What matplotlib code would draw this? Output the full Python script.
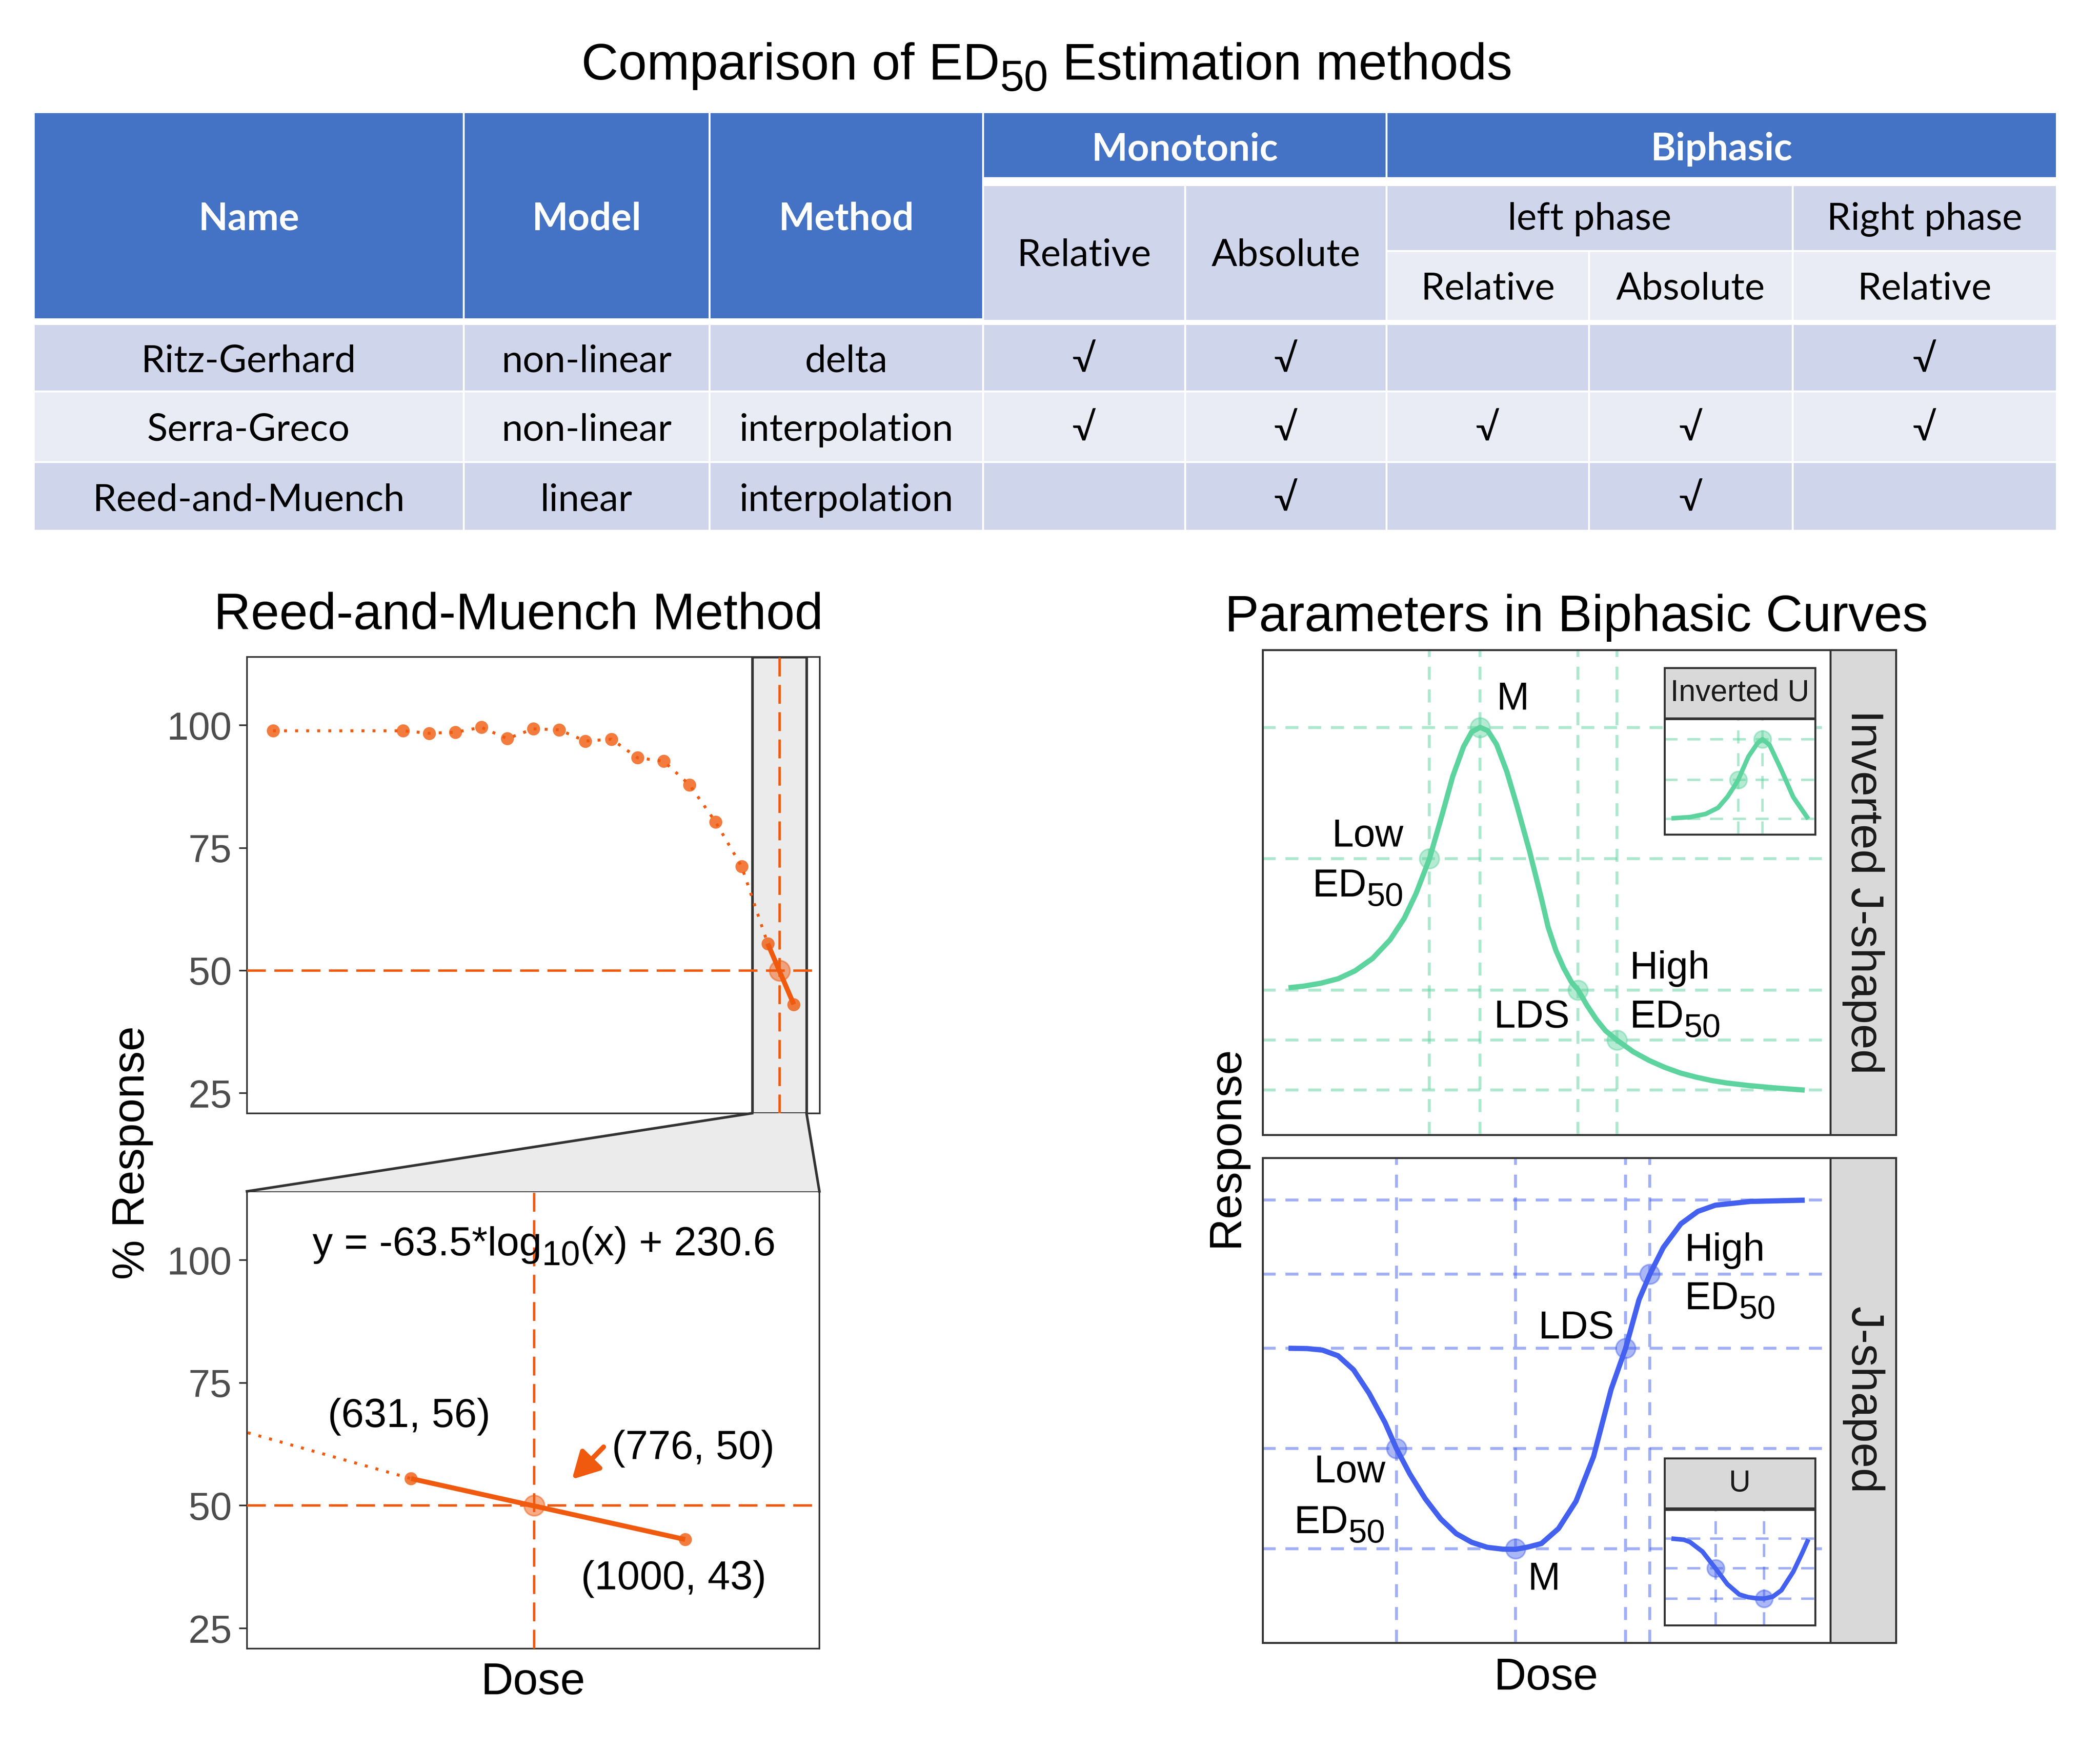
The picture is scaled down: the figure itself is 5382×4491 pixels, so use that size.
import numpy as np
import matplotlib
matplotlib.use('Agg')
import matplotlib.pyplot as plt
from matplotlib.patches import Rectangle, Polygon
from matplotlib.ticker import NullLocator, FixedLocator

W, H, DPI = 5383, 4491, 300
plt.rcParams['font.family'] = ['Liberation Sans', 'DejaVu Sans']
plt.rcParams['lines.scale_dashes'] = False

# ---------------- data ----------------
tbl_header = ['Name', 'Model', 'Method']
tbl_group = ['Monotonic', 'Biphasic']
tbl_phase = ['left phase', 'Right phase']
tbl_mono_sub = ['Relative', 'Absolute']
tbl_bi_sub = ['Relative', 'Absolute', 'Relative']
tbl_names = ['Ritz-Gerhard', 'Serra-Greco', 'Reed-and-Muench']
tbl_models = ['non-linear', 'non-linear', 'linear']
tbl_methods = ['delta', 'interpolation', 'interpolation']
tbl_checks = [[1, 1, 0, 0, 1],
              [1, 1, 1, 1, 1],
              [0, 1, 0, 1, 0]]

# Reed-and-Muench example
rm_dose = [0.1, 1, 1.58, 2.51, 3.98, 6.31, 10, 15.8, 25.1, 39.8, 63.1, 100,
           158, 251, 398, 631, 1000]
rm_resp = [98.9, 98.9, 98.4, 98.6, 99.6, 97.3, 99.3, 99.1, 96.8, 97.2, 93.4,
           92.7, 87.9, 80.3, 71.2, 55.5, 43.1]
fit_dose = [631, 1000]
fit_resp = [55.5, 43.1]
ed50_dose = 776
ed50_resp = 50
zoom_dose = [479, 1253]
rm_yticks = [25, 50, 75, 100]

# Biphasic curves
ij_x = [0.00, 0.28, 0.62, 0.96, 1.29, 1.63, 1.97, 2.24, 2.47, 2.73, 2.98, 3.18,
        3.39, 3.55, 3.71, 3.86, 4.03, 4.23, 4.43, 4.67, 4.90, 5.03, 5.18, 5.33,
        5.48, 5.61, 5.78, 5.96, 6.14, 6.36, 6.68, 6.99, 7.29, 7.59, 7.89, 8.19,
        8.49, 8.90, 9.45, 10.00]
ij_y = [30.32, 30.63, 31.24, 32.17, 33.81, 36.37, 40.22, 44.58, 49.71, 56.90,
        66.13, 73.83, 79.99, 83.06, 84.00, 83.32, 80.50, 74.86, 67.67, 58.44,
        48.69, 42.80, 38.00, 34.40, 31.50, 29.87, 26.73, 23.84, 21.47, 19.54,
        17.11, 15.31, 13.90, 12.75, 11.91, 11.21, 10.69, 10.18, 9.65, 9.22]
ij_key_x = [2.73, 3.71, 5.61, 6.36]
ij_key_y = [56.90, 83.93, 29.87, 19.54]
ij_hlines = [83.93, 56.90, 29.87, 19.54, 9.22]

j_x = [0.00, 0.36, 0.66, 0.96, 1.26, 1.56, 1.87, 2.09, 2.35, 2.65, 2.95, 3.25,
       3.55, 3.85, 4.15, 4.40, 4.64, 4.90, 5.23, 5.57, 5.91, 6.25, 6.53, 6.79,
       7.00, 7.26, 7.60, 7.93, 8.27, 8.95, 10.00]
j_y = [60.72, 60.66, 60.34, 59.18, 56.29, 51.48, 45.39, 40.06, 34.80, 29.67,
       25.50, 22.48, 20.69, 19.66, 19.28, 19.25, 19.72, 20.44, 23.52, 29.17,
       38.40, 52.26, 60.72, 70.74, 76.00, 81.51, 86.39, 88.96, 90.24, 91.01,
       91.27]
j_key_x = [2.09, 4.40, 6.53, 7.00]
j_key_y = [40.06, 19.40, 60.72, 76.00]
j_hlines = [91.27, 76.00, 60.72, 40.06, 19.40]

iu_x = [0.0, 1.36, 2.50, 3.41, 4.09, 4.54, 4.88, 5.33, 5.63, 6.30, 6.65, 7.17,
        8.03, 8.90, 10.0]
iu_y = [13.97, 15.05, 17.76, 23.14, 32.58, 40.70, 47.40, 59.60, 67.60, 79.30,
        82.60, 77.60, 55.90, 32.40, 13.40]
iu_key_x = [4.88, 6.65]
iu_key_y = [47.40, 82.60]
iu_hlines = [82.60, 47.40, 13.40]

u_x = [0.0, 0.92, 1.36, 2.27, 3.22, 4.09, 4.96, 5.60, 6.20, 6.78, 7.40, 8.03,
       8.90, 9.55, 10.0]
u_y = [75.0, 74.0, 72.0, 63.7, 49.2, 35.4, 26.5, 24.2, 23.2, 23.0, 24.6, 30.1,
       46.2, 62.4, 74.4]
u_key_x = [3.22, 6.78]
u_key_y = [49.2, 23.0]
u_hlines = [75.0, 49.2, 23.0]

# ---------------- style ----------------
orange = '#F05A0E'
green = '#5DD39E'
blue = '#4361EE'
dark = '#333333'
tblue = '#4472C4'
row_dark = '#CFD5EA'
row_light = '#E9EBF5'
TFONT = ['Lato', 'DejaVu Sans']

fig = plt.figure(figsize=(W / DPI, H / DPI), dpi=DPI)
fig.patch.set_facecolor('white')
ov = fig.add_axes([0, 0, 1, 1], zorder=10)
ov.set_xlim(0, W)
ov.set_ylim(H, 0)
ov.axis('off')
renderer = fig.canvas.get_renderer()


def _w(s, size, family=None):
    kw = {'family': family} if family else {}
    t = ov.text(0, 0, s, fontsize=size, **kw)
    w = t.get_window_extent(renderer).width
    t.remove()
    return w


def rich(x, y, pieces, size, ha='left', color='black', sub=0.85, drop=0.24):
    px = size * DPI / 72.0
    items = []
    for s, kind in pieces:
        if kind == 'gap':
            items.append((None, size, 0, _w('a a', size) - _w('aa', size)))
        elif kind == 'sub':
            fs = size * sub
            items.append((s, fs, drop * px, _w(s, fs)))
        else:
            items.append((s, size, 0, _w(s, size)))
    total = sum(i[3] for i in items)
    x0 = x - total if ha == 'right' else (x - total / 2 if ha == 'center' else x)
    for s, fs, dy, w in items:
        if s is not None:
            ov.text(x0, y + dy, s, fontsize=fs, ha='left', va='baseline', color=color)
        x0 += w


def fpos(x0, y0, x1, y1):
    return [x0 / W, 1 - y1 / H, (x1 - x0) / W, (y1 - y0) / H]


# ---------------- table ----------------
X = [86, 1188, 1818.5, 2519, 3037, 3553.5, 4072, 4594, 5271]


def cell(x0, x1, y0, y1, color):
    ov.add_patch(Rectangle((x0, y0), x1 - x0, y1 - y0, facecolor=color,
                           edgecolor='white', lw=1.2, zorder=1))


for i in range(3):
    cell(X[i], X[i + 1], 286.7, 818, tblue)
cell(X[3], X[5], 286.7, 456, tblue)
cell(X[5], X[8], 286.7, 456, tblue)
cell(X[3], X[4], 474, 822, row_dark)
cell(X[4], X[5], 474, 822, row_dark)
cell(X[5], X[7], 474, 643, row_dark)
cell(X[7], X[8], 474, 643, row_dark)
for i in range(5, 8):
    cell(X[i], X[i + 1], 643, 822, row_light)
row_b = [830, 1003, 1183.5, 1360]
row_cols = [row_dark, row_light, row_dark]
for r in range(3):
    for i in range(8):
        cell(X[i], X[i + 1], row_b[r], row_b[r + 1], row_cols[r])

TS = 23.4
cx = [(X[i] + X[i + 1]) / 2 for i in range(8)]
for i, s in enumerate(tbl_header):
    ov.text(cx[i], 589, s, fontsize=TS, fontweight='bold', color='white',
            ha='center', va='baseline', family=TFONT, zorder=2)
ov.text((X[3] + X[5]) / 2, 411, tbl_group[0], fontsize=TS, fontweight='bold',
        color='white', ha='center', va='baseline', family=TFONT, zorder=2)
ov.text((X[5] + X[8]) / 2, 411, tbl_group[1], fontsize=TS, fontweight='bold',
        color='white', ha='center', va='baseline', family=TFONT, zorder=2)
ov.text(cx[3], 681, tbl_mono_sub[0], fontsize=TS, ha='center', va='baseline', family=TFONT, zorder=2)
ov.text(cx[4], 681, tbl_mono_sub[1], fontsize=TS, ha='center', va='baseline', family=TFONT, zorder=2)
ov.text((X[5] + X[7]) / 2, 589, tbl_phase[0], fontsize=TS, ha='center', va='baseline', family=TFONT, zorder=2)
ov.text(cx[7], 589, tbl_phase[1], fontsize=TS, ha='center', va='baseline', family=TFONT, zorder=2)
for k, s in enumerate(tbl_bi_sub):
    ov.text(cx[5 + k], 767, s, fontsize=TS, ha='center', va='baseline', family=TFONT, zorder=2)
base = [954, 1130, 1310]
for r in range(3):
    ov.text(cx[0], base[r], tbl_names[r], fontsize=TS, ha='center', va='baseline', family=TFONT, zorder=2)
    ov.text(cx[1], base[r], tbl_models[r], fontsize=TS, ha='center', va='baseline', family=TFONT, zorder=2)
    ov.text(cx[2], base[r], tbl_methods[r], fontsize=TS, ha='center', va='baseline', family=TFONT, zorder=2)
    for k in range(5):
        if tbl_checks[r][k]:
            ov.text(cx[3 + k], base[r], '\u221a', fontsize=TS, ha='center',
                    va='baseline', family=TFONT, zorder=2)

rich(2683, 204, [('Comparison of ED', 'n'), ('50', 'sub'), ('', 'gap'),
                 ('Estimation methods', 'n')], 31.5, ha='center', drop=0.22)

# ---------------- Reed-and-Muench panels ----------------
def style_rm(ax):
    ax.set_xscale('log')
    ax.set_ylim(20.9, 114)
    ax.yaxis.set_major_locator(FixedLocator(rm_yticks))
    ax.xaxis.set_major_locator(NullLocator())
    ax.xaxis.set_minor_locator(NullLocator())
    ax.tick_params(axis='y', labelsize=24, labelcolor='#4D4D4D', length=4.9,
                   width=1.0, color=dark, pad=4.4)
    for sp in ax.spines.values():
        sp.set_color(dark)
        sp.set_linewidth(1.0)


def draw_rm(ax):
    ax.plot(rm_dose, rm_resp, color=orange, lw=1.8, ls=(0, (1.8, 5.0)), zorder=2)
    ax.plot(rm_dose, rm_resp, 'o', ms=8, color=orange, alpha=0.8, mew=0, zorder=3)
    ax.plot([ed50_dose], [ed50_resp], 'o', ms=12.5, color=orange, alpha=0.5,
            mec=orange, mew=1.0, zorder=3)
    ax.axhline(ed50_resp, color=orange, lw=1.5, dashes=(11.6, 5.2), zorder=4)
    ax.axvline(ed50_dose, color=orange, lw=1.5, dashes=(11.6, 5.2), zorder=4)
    ax.plot(fit_dose, fit_resp, color=orange, lw=3.0, solid_capstyle='butt', zorder=5)


ax1 = fig.add_axes(fpos(633, 1683.5, 2101, 2853.6))
ax1.axvspan(zoom_dose[0], zoom_dose[1], facecolor='#EBEBEB', edgecolor=dark,
            lw=1.6, zorder=0)
draw_rm(ax1)
style_rm(ax1)
ax1.set_xlim(10 ** -1.2, 10 ** 3.2)

ax2 = fig.add_axes(fpos(633, 3053.8, 2100, 4225.7))
draw_rm(ax2)
style_rm(ax2)
ax2.set_xlim(zoom_dose[0], zoom_dose[1])

# connector between the panels
p_tl = ax1.transData.transform((zoom_dose[0], ax1.get_ylim()[0]))
p_tr = ax1.transData.transform((zoom_dose[1], ax1.get_ylim()[0]))
p_bl = ax2.transAxes.transform((0, 1))
p_br = ax2.transAxes.transform((1, 1))
pts = [(p[0], H - p[1]) for p in (p_tl, p_bl, p_br, p_tr)]
ov.add_patch(Polygon(pts, closed=True, facecolor='#EBEBEB', edgecolor='none', zorder=1))
ov.plot([pts[0][0], pts[1][0]], [pts[0][1], pts[1][1]], color=dark, lw=1.6, zorder=2)
ov.plot([pts[3][0], pts[2][0]], [pts[3][1], pts[2][1]], color=dark, lw=1.6, zorder=2)

ov.text(1329, 1613, 'Reed-and-Muench Method', fontsize=31.5, ha='center', va='baseline')
ov.text(340, 2955, '% Response', fontsize=27.5, rotation=90, ha='center', va='center')
ov.text(1366, 4343, 'Dose', fontsize=27.5, ha='center', va='baseline')
rich(801, 3218, [('y = -63.5*log', 'n'), ('10', 'sub'), ('(x) + 230.6', 'n')], 25)
ov.text(1048, 3658, '(631, 56)', fontsize=25, ha='center', va='baseline')
ov.text(1777, 3740, '(776, 50)', fontsize=25, ha='center', va='baseline')
ov.text(1727, 4074, '(1000, 43)', fontsize=25, ha='center', va='baseline')
ov.annotate('', xy=(1466, 3792), xytext=(1547, 3709),
            arrowprops=dict(arrowstyle='-|>,head_length=0.55,head_width=0.3',
                            color=orange, lw=3.0, shrinkA=0, shrinkB=0,
                            mutation_scale=25))

# ---------------- Biphasic panels ----------------
def biphasic(ax, x, y, kx, ky, hl, color, lw=3.2, ms=12, glw=1.8):
    for v in kx:
        ax.axvline(v, color=color, alpha=0.5, lw=glw, dashes=(8.0, 6.0), zorder=1)
    for h in hl:
        ax.axhline(h, color=color, alpha=0.5, lw=glw, dashes=(8.0, 6.0), zorder=1)
    ax.plot(x, y, color=color, lw=lw, solid_capstyle='butt',
            solid_joinstyle='round', zorder=3)
    ax.plot(kx, ky, 'o', ms=ms, color=color, alpha=0.45, mec=color, mew=1.0, zorder=4)
    ax.set_xlim(-0.5, 10.5)
    ax.set_ylim(0, 100)
    ax.set_xticks([])
    ax.set_yticks([])
    for sp in ax.spines.values():
        sp.set_color(dark)
        sp.set_linewidth(1.2)


def strip(pos, label, size, rot, z=0):
    s = fig.add_axes(pos, zorder=z)
    s.set_facecolor('#D9D9D9')
    s.set_xticks([])
    s.set_yticks([])
    for sp in s.spines.values():
        sp.set_color(dark)
        sp.set_linewidth(1.2)
    s.text(0.5, 0.5, label, fontsize=size, rotation=rot, color='#1A1A1A',
           ha='center', va='center', transform=s.transAxes)


ax3 = fig.add_axes(fpos(3236, 1665.5, 4691.5, 2909))
biphasic(ax3, ij_x, ij_y, ij_key_x, ij_key_y, ij_hlines, green)
strip(fpos(4691.5, 1665.5, 4858.7, 2909), 'Inverted J-shaped', 28, -90)

ax4 = fig.add_axes(fpos(3236, 2968, 4691.5, 4210.6))
biphasic(ax4, j_x, j_y, j_key_x, j_key_y, j_hlines, blue)
strip(fpos(4691.5, 2968, 4858.7, 4210.6), 'J-shaped', 28, -90)

ax5 = fig.add_axes(fpos(4266, 1843.4, 4652, 2139), zorder=5)
ax5.set_facecolor('white')
biphasic(ax5, iu_x, iu_y, iu_key_x, iu_key_y, iu_hlines, green, lw=2.8, ms=10.5, glw=1.5)
strip(fpos(4266, 1712, 4652, 1840.5), 'Inverted U', 18.5, 0, z=5)

ax6 = fig.add_axes(fpos(4266, 3870, 4652, 4165.6), zorder=5)
ax6.set_facecolor('white')
biphasic(ax6, u_x, u_y, u_key_x, u_key_y, u_hlines, blue, lw=2.8, ms=10.5, glw=1.5)
strip(fpos(4266, 3738, 4652, 3866), 'U', 18.5, 0, z=5)

ov.text(4040, 1618, 'Parameters in Biphasic Curves', fontsize=31.5, ha='center', va='baseline')
ov.text(3143, 2939, 'Response', fontsize=27.5, rotation=90, ha='center', va='center')
ov.text(3962, 4331, 'Dose', fontsize=27.5, ha='center', va='baseline')

LS = 24
# inverted J labels
ov.text(3836, 1819, 'M', fontsize=LS, ha='left', va='baseline')
ov.text(3597, 2170, 'Low', fontsize=LS, ha='right', va='baseline')
rich(3597, 2298, [('ED', 'n'), ('50', 'sub')], LS, ha='right')
ov.text(4023, 2634, 'LDS', fontsize=LS, ha='right', va='baseline')
ov.text(4177, 2509, 'High', fontsize=LS, ha='left', va='baseline')
rich(4177, 2634, [('ED', 'n'), ('50', 'sub')], LS, ha='left')
# J labels
ov.text(4318, 3232, 'High', fontsize=LS, ha='left', va='baseline')
rich(4318, 3356, [('ED', 'n'), ('50', 'sub')], LS, ha='left')
ov.text(4137, 3431, 'LDS', fontsize=LS, ha='right', va='baseline')
ov.text(3551, 3800, 'Low', fontsize=LS, ha='right', va='baseline')
rich(3550, 3930, [('ED', 'n'), ('50', 'sub')], LS, ha='right')
ov.text(3916, 4075, 'M', fontsize=LS, ha='left', va='baseline')

fig.savefig('out.png', dpi=DPI, facecolor='white')
